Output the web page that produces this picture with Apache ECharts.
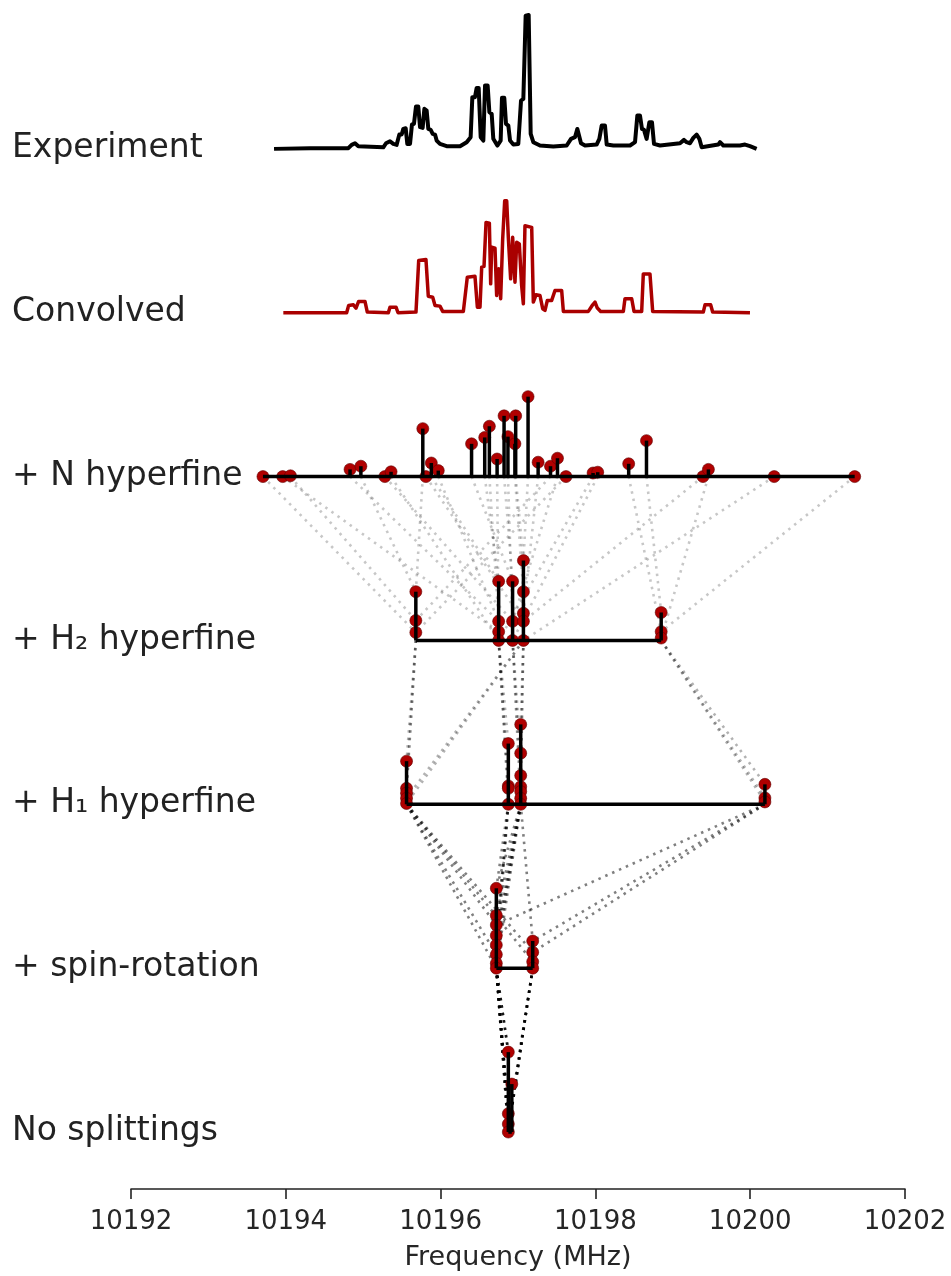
<!DOCTYPE html>
<html><head><meta charset="utf-8">
<script src="https://cdn.jsdelivr.net/npm/echarts@6/dist/echarts.min.js"></script>
<style>html,body{margin:0;padding:0;background:#fff}#c{width:951px;height:1276px}</style>
</head><body><div id="c"></div>
<script>
// ---------- DATA ----------
const rowLabels = ['Experiment', 'Convolved', '+ N hyperfine', '+ H\u2082 hyperfine', '+ H\u2081 hyperfine', '+ spin-rotation', 'No splittings'];
const xTicks = [10192, 10194, 10196, 10198, 10200, 10202];

// Experiment trace (frequency MHz, relative intensity)
const expFreq = [10193.848,10194.313,10194.808,10194.851,10194.894,10194.937,10195.260,10195.295,10195.346,10195.389,10195.432,10195.467,10195.497,10195.518,10195.549,10195.570,10195.605,10195.630,10195.656,10195.682,10195.712,10195.734,10195.768,10195.790,10195.820,10195.841,10195.872,10195.898,10195.928,10195.949,10195.992,10196.078,10196.251,10196.337,10196.388,10196.410,10196.444,10196.466,10196.492,10196.518,10196.552,10196.574,10196.608,10196.630,10196.660,10196.681,10196.733,10196.776,10196.793,10196.823,10196.845,10196.875,10196.897,10196.940,10197.004,10197.039,10197.069,10197.099,10197.138,10197.164,10197.198,10197.284,10197.456,10197.629,10197.685,10197.736,10197.767,10197.792,10197.814,10197.866,10198.016,10198.051,10198.081,10198.124,10198.146,10198.232,10198.447,10198.512,10198.542,10198.576,10198.602,10198.628,10198.662,10198.697,10198.731,10198.757,10198.835,10199.093,10199.145,10199.179,10199.222,10199.265,10199.308,10199.343,10199.373,10199.588,10199.610,10199.653,10199.868,10199.933,10199.997,10200.083];
const expInt = [0,0.005,0.005,0.030,0.042,0.020,0.012,0.042,0.057,0.037,0.030,0.107,0.107,0.149,0.154,0.037,0.037,0.182,0.187,0.316,0.316,0.162,0.157,0.299,0.286,0.149,0.142,0.112,0.107,0.062,0.037,0.020,0.020,0.050,0.087,0.386,0.386,0.455,0.455,0.087,0.062,0.473,0.473,0.274,0.261,0.075,0.025,0.062,0.381,0.381,0.187,0.174,0.062,0.032,0.037,0.361,0.373,0.995,1.0,0.112,0.050,0.025,0.017,0.025,0.075,0.087,0.149,0.137,0.042,0.025,0.032,0.075,0.174,0.174,0.032,0.025,0.025,0.050,0.249,0.249,0.149,0.142,0.075,0.199,0.199,0.037,0.025,0.042,0.067,0.050,0.042,0.082,0.107,0.075,0.012,0.032,0.050,0.025,0.025,0.032,0.020,0];

// Convolved simulation
const convFreq = [10193.968,10194.786,10194.812,10194.873,10194.907,10194.941,10195.023,10195.053,10195.325,10195.346,10195.424,10195.450,10195.682,10195.717,10195.811,10195.841,10195.898,10195.928,10195.992,10196.027,10196.294,10196.345,10196.444,10196.475,10196.509,10196.531,10196.561,10196.587,10196.630,10196.647,10196.660,10196.703,10196.724,10196.750,10196.776,10196.802,10196.828,10196.854,10196.875,10196.905,10196.931,10196.961,10196.983,10197.017,10197.047,10197.069,10197.090,10197.177,10197.198,10197.233,10197.284,10197.319,10197.349,10197.379,10197.435,10197.478,10197.564,10197.586,10197.909,10197.965,10197.995,10198.025,10198.068,10198.361,10198.382,10198.469,10198.499,10198.598,10198.619,10198.705,10198.740,10199.394,10199.416,10199.489,10199.515,10199.997];
const convInt = [0,0,0.065,0.071,0.042,0.101,0.101,0.006,0,0.050,0.050,0,0.006,0.466,0.475,0.148,0.139,0.065,0.059,0.012,0.012,0.318,0.326,0.050,0.050,0.407,0.415,0.807,0.801,0.258,0.585,0.576,0.154,0.392,0.125,0.659,1.0,1.0,0.674,0.303,0.674,0.273,0.629,0.614,0.243,0.080,0.777,0.763,0.095,0.160,0.154,0.036,0.021,0.110,0.110,0.199,0.199,0.012,0.012,0.071,0.095,0.042,0.012,0.012,0.125,0.125,0.012,0.012,0.347,0.347,0.012,0.006,0.071,0.071,0.006,0];

// + N hyperfine components (freq, intensity, parent index in H2 list)
const nFreq = [10193.705,10193.96,10194.06,10194.83,10194.97,10195.28,10195.36,10195.77,10195.81,10195.88,10195.97,10196.40,10196.57,10196.63,10196.73,10196.82,10196.87,10196.96,10196.97,10197.13,10197.26,10197.42,10197.51,10197.62,10197.97,10198.03,10198.43,10198.66,10199.39,10199.46,10200.31,10201.35];
const nInt  = [0,0,0.01,0.09,0.13,0,0.06,0.60,0,0.17,0.075,0.41,0.49,0.63,0.22,0.76,0.50,0.41,0.76,1.0,0.18,0.13,0.23,0,0.045,0.055,0.16,0.45,0,0.09,0,0];
const nPar  = [2,5,1,4,0,8,6,0,13,3,4,7,3,4,5,7,8,11,10,10,12,1,8,2,6,9,16,15,13,17,14,16];

// + H2 hyperfine components (parent index in H1 list)
const h2Freq = [10195.68,10195.68,10195.68,10196.75,10196.75,10196.75,10196.75,10196.93,10196.93,10196.93,10197.07,10197.07,10197.07,10197.07,10197.07,10198.85,10198.85,10198.85];
const h2Int  = [0.61,0.25,0.10,0.74,0.24,0.11,0,0.74,0.24,0,1.0,0.61,0.34,0.24,0,0.35,0.11,0.03];
const h2Par  = [0,1,2,5,6,7,8,10,12,15,9,11,13,3,4,16,17,18];

// + H1 hyperfine components (parent index in spin-rotation list)
const h1Freq = [10195.56,10195.56,10195.56,10195.56,10195.56,10196.875,10196.875,10196.875,10196.875,10197.035,10197.035,10197.035,10197.035,10197.035,10197.035,10197.035,10200.19,10200.19,10200.19];
const h1Int  = [0.54,0.20,0.14,0.075,0.01,0.76,0.23,0.20,0,1.0,0.64,0.36,0.22,0.16,0.075,0,0.25,0.08,0.03];
const h1Par  = [2,9,5,10,7,0,3,4,6,0,1,3,4,5,8,7,8,9,2];

// + spin-rotation components (parent index in no-splitting list)
const srFreq = [10196.72,10196.72,10196.72,10196.72,10196.72,10196.72,10196.72,10196.72,10197.19,10197.19,10197.19,10197.19];
const srInt  = [1.0,0.66,0.54,0.41,0.29,0.17,0.06,0,0.34,0.20,0.08,0];
const srPar  = [0,2,0,2,2,3,4,4,3,4,4,4];

// No splittings
const nsFreq = [10196.875,10196.92,10196.875,10196.875,10196.875];
const nsInt  = [1.0,0.60,0.23,0.10,0];

// ---------- LAYOUT ----------
const ROW = 164;               // px between rows
const S_STICK = 80 / ROW, S_EXP = 134 / ROW, S_CONV = 112 / ROW;
const base = { exp: 6, conv: 5, N: 4, H2: 3, H1: 2, SR: 1, NS: 0 };
const stickLevels = [
  { f: nFreq, h: nInt, b: base.N, par: nPar, child: 'H2', alpha: 0.22 },
  { f: h2Freq, h: h2Int, b: base.H2, par: h2Par, child: 'H1', alpha: 0.3 },
  { f: h1Freq, h: h1Int, b: base.H1, par: h1Par, child: 'SR', alpha: 0.5 },
  { f: srFreq, h: srInt, b: base.SR, par: srPar, child: 'NS', alpha: 0.7 },
  { f: nsFreq, h: nsInt, b: base.NS, par: null }
];
const byName = { H2: stickLevels[1], H1: stickLevels[2], SR: stickLevels[3], NS: stickLevels[4] };

const stems = [], baselines = [], dots = [], links = [];
stickLevels.forEach(L => {
  const groups = {};
  L.f.forEach((f, i) => {
    const key = f.toFixed(3);
    groups[key] = Math.max(groups[key] || 0, L.h[i]);
    dots.push([f, L.b + L.h[i] * S_STICK]);
    if (L.par) {
      const P = byName[L.child];
      const j = L.par[i];
      links.push([f, L.b, P.f[j], P.b + P.h[j] * S_STICK, L.alpha]);
    }
  });
  Object.keys(groups).forEach(k => stems.push([+k, L.b, L.b + groups[k] * S_STICK]));
  baselines.push([Math.min(...L.f), Math.max(...L.f), L.b]);
});

const expData = expFreq.map((f, i) => [f, base.exp + expInt[i] * S_EXP]);
const convData = convFreq.map((f, i) => [f, base.conv + convInt[i] * S_CONV]);

const chart = echarts.init(document.getElementById('c'), null, { renderer: 'canvas' });
const yMin = -57 / ROW, yMax = (1190 - 57) / ROW;

function segRender(kind) {
  return function (params, api) {
    let a, b, style;
    if (kind === 'stem') {
      a = api.coord([api.value(0), api.value(1)]); b = api.coord([api.value(0), api.value(2)]);
      style = { stroke: '#000', lineWidth: 3.5 };
    } else if (kind === 'base') {
      a = api.coord([api.value(0), api.value(2)]); b = api.coord([api.value(1), api.value(2)]);
      style = { stroke: '#000', lineWidth: 3.5 };
    } else {
      a = api.coord([api.value(0), api.value(1)]); b = api.coord([api.value(2), api.value(3)]);
      style = { stroke: 'rgba(0,0,0,' + api.value(4) + ')', lineWidth: 2.6, lineDash: [2.5, 5] };
    }
    return { type: 'line', shape: { x1: a[0], y1: a[1], x2: b[0], y2: b[1] }, style: style, silent: true };
  };
}

chart.setOption({
  animation: false,
  backgroundColor: '#fff',
  grid: { left: 131, right: 46, top: 0, bottom: 86, containLabel: false },
  xAxis: {
    type: 'value', min: xTicks[0], max: xTicks[xTicks.length - 1], interval: 2,
    name: 'Frequency (MHz)', nameLocation: 'middle', nameGap: 55,
    nameTextStyle: { fontFamily: 'DejaVu Sans', fontSize: 27, color: '#262626' },
    axisLine: { show: true, onZero: false, lineStyle: { color: '#222', width: 1.6 } },
    axisTick: { show: true, length: 10, lineStyle: { color: '#222', width: 1.6 } },
    axisLabel: { fontFamily: 'DejaVu Sans', fontSize: 26, color: '#262626', margin: 20, formatter: v => String(v) },
    splitLine: { show: false }
  },
  yAxis: { type: 'value', min: yMin, max: yMax, show: false, splitLine: { show: false } },
  series: [
    { type: 'custom', name: 'links', renderItem: segRender('link'), data: links, z: 1, clip: false, encode: { x: [0, 2], y: [1, 3] } },
    { type: 'scatter', name: 'dots', data: dots, symbol: 'circle', symbolSize: 12, z: 2,
      itemStyle: { color: '#b00000', borderColor: '#600000', borderWidth: 0.6, opacity: 1 } },
    { type: 'custom', name: 'stems', renderItem: segRender('stem'), data: stems, z: 3, clip: false, encode: { x: 0, y: [1, 2] } },
    { type: 'custom', name: 'baselines', renderItem: segRender('base'), data: baselines, z: 3, clip: false, encode: { x: [0, 1], y: 2 } },
    { type: 'line', name: 'Experiment', data: expData, showSymbol: false, symbol: 'none', z: 4,
      lineStyle: { color: '#000', width: 4, join: 'round' } },
    { type: 'line', name: 'Convolved', data: convData, showSymbol: false, symbol: 'none', z: 4,
      lineStyle: { color: '#aa0000', width: 3.5, join: 'round' } }
  ]
});

// row labels positioned through the chart's own y scale
const rowBases = [base.exp, base.conv, base.N, base.H2, base.H1, base.SR, base.NS];
const graphics = rowLabels.map((t, i) => {
  const py = chart.convertToPixel({ gridIndex: 0 }, [xTicks[0], rowBases[i]])[1];
  return { type: 'text', left: 12, top: py - 17, z: 10,
    style: { text: t, fontFamily: 'DejaVu Sans', fontSize: 33, fill: '#222' } };
});
chart.setOption({ graphic: graphics });
</script></body></html>
